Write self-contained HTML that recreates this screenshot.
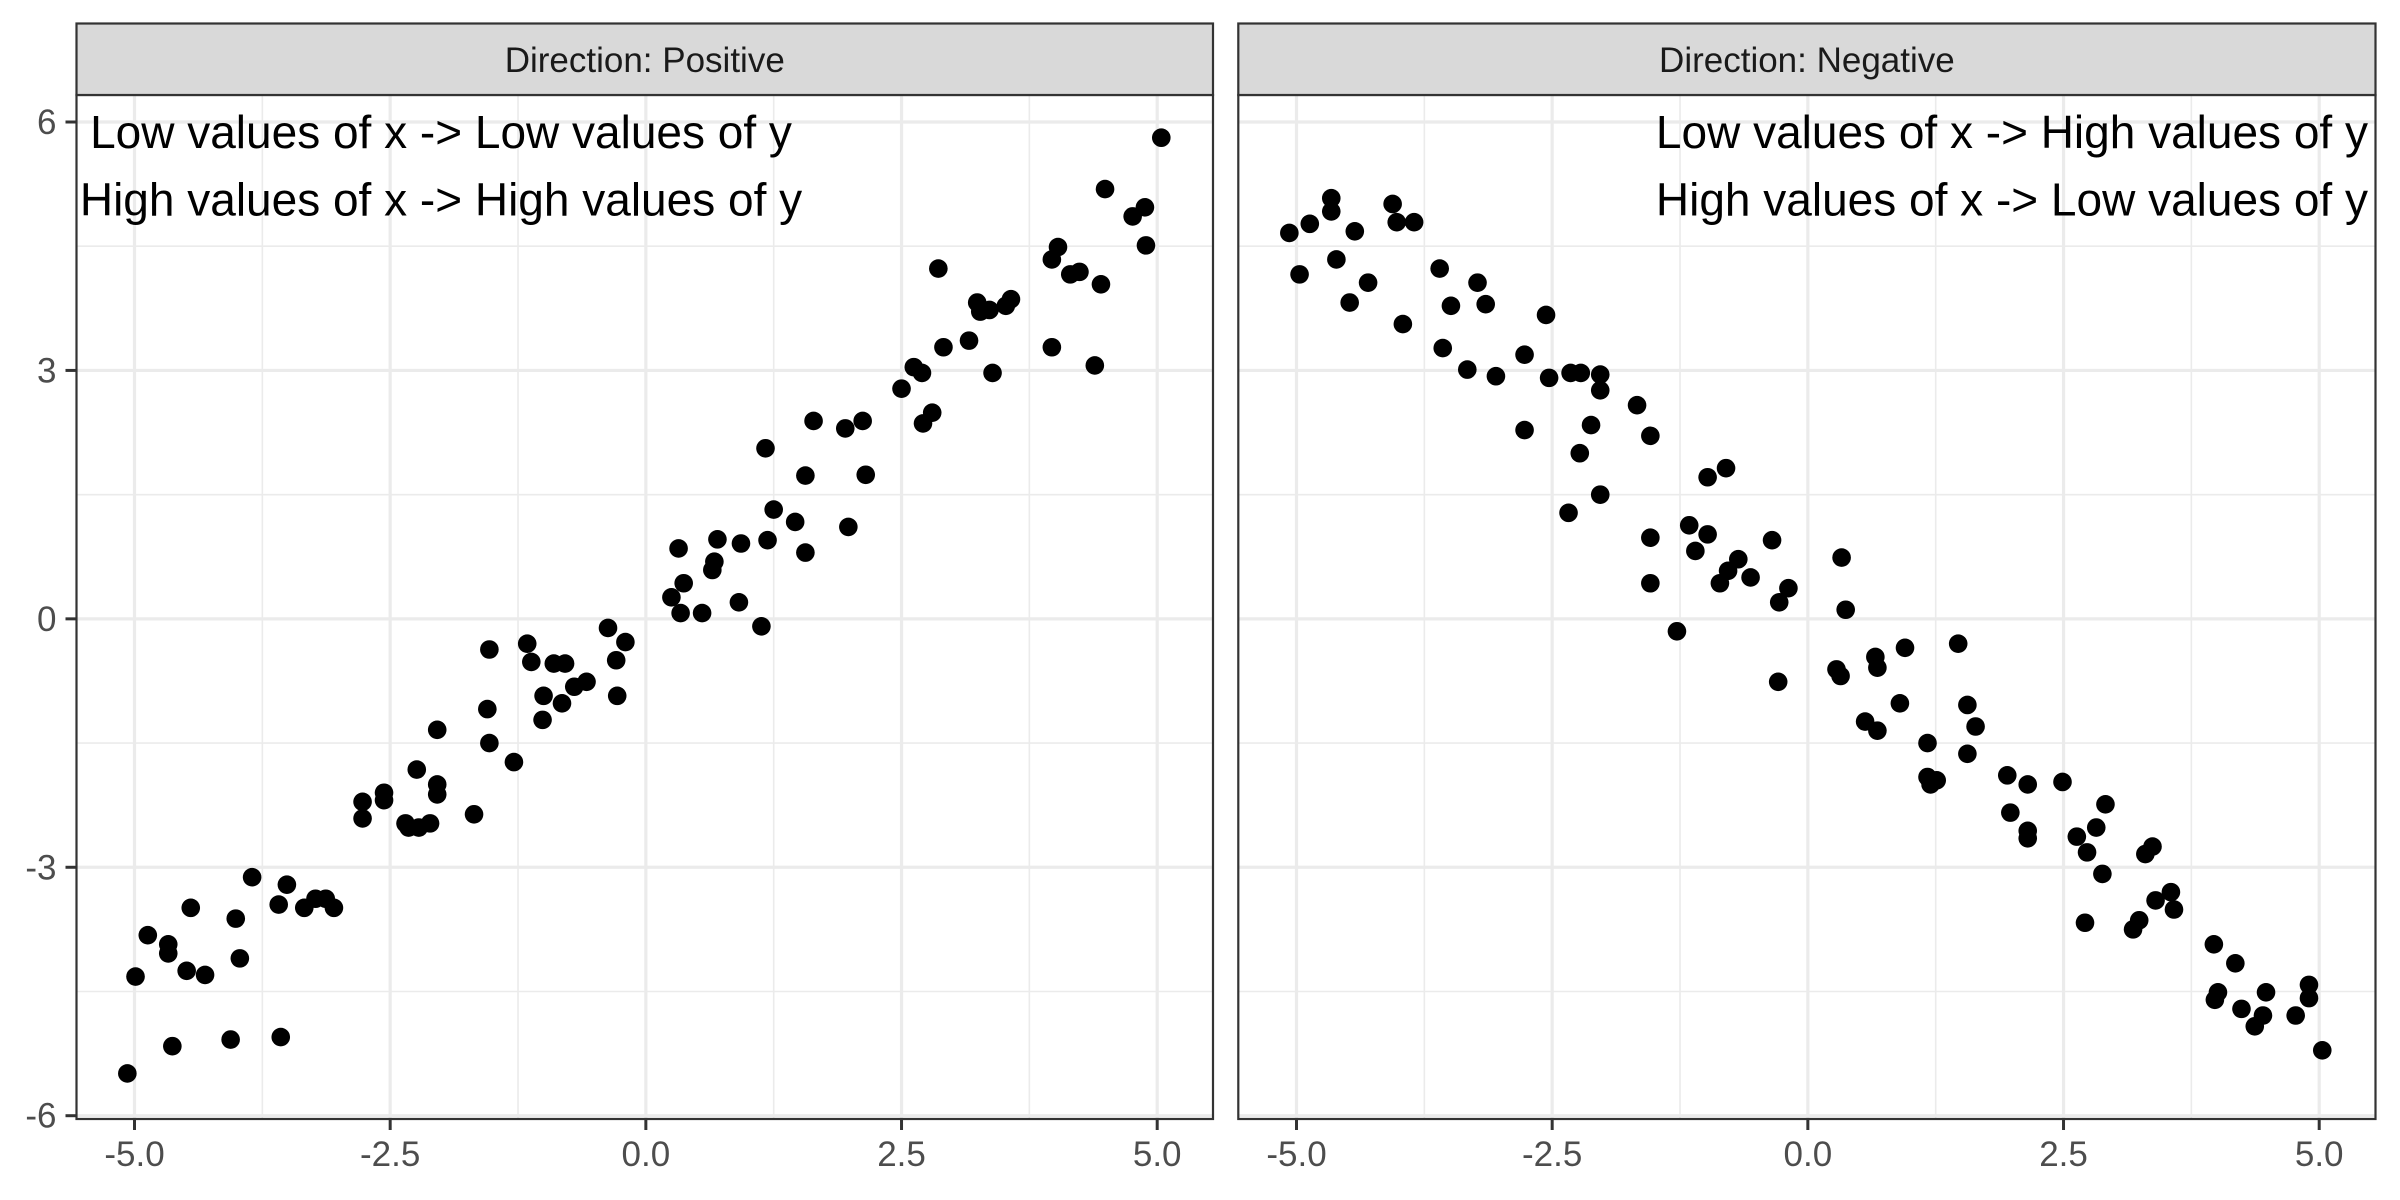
<!DOCTYPE html>
<html><head><meta charset="utf-8"><style>
body{margin:0;background:#fff}
svg{display:block;font-family:"Liberation Sans",Arial,sans-serif}
</style></head><body>
<svg id="chart" width="2400" height="1200" viewBox="0 0 2400 1200" xmlns="http://www.w3.org/2000/svg"></svg>
<script>
const posX=[-5.07,-4.99,-4.87,-4.67,-4.67,-4.63,-4.49,-4.45,-4.31,-4.06,-4.01,-3.97,-3.85,-3.59,-3.57,-3.51,-3.34,-3.23,-3.13,-3.05,-2.77,-2.77,-2.56,-2.56,-2.35,-2.32,-2.24,-2.22,-2.11,-2.04,-2.04,-2.04,-1.68,-1.55,-1.53,-1.53,-1.29,-1.16,-1.12,-1.01,-1.00,-0.90,-0.79,-0.82,-0.70,-0.58,-0.37,-0.29,-0.28,-0.20,0.25,0.32,0.37,0.34,0.55,0.65,0.67,0.70,0.91,0.93,1.13,1.17,1.19,1.25,1.46,1.56,1.56,1.64,1.95,1.98,2.12,2.15,2.50,2.62,2.70,2.71,2.80,2.86,2.91,3.16,3.24,3.27,3.36,3.39,3.52,3.57,3.97,3.97,4.03,4.15,4.24,4.39,4.45,4.49,4.76,4.88,4.89,5.04];
const posY=[-5.49,-4.32,-3.82,-3.93,-4.04,-5.16,-4.25,-3.49,-4.30,-5.08,-3.62,-4.10,-3.12,-3.45,-5.05,-3.21,-3.49,-3.38,-3.38,-3.49,-2.21,-2.41,-2.10,-2.19,-2.47,-2.52,-1.82,-2.52,-2.47,-2.00,-2.12,-1.34,-2.36,-1.09,-1.50,-0.37,-1.73,-0.30,-0.52,-1.22,-0.93,-0.54,-0.54,-1.02,-0.82,-0.76,-0.11,-0.50,-0.93,-0.28,0.26,0.85,0.43,0.07,0.07,0.59,0.69,0.96,0.20,0.91,-0.09,2.06,0.95,1.32,1.17,1.73,0.80,2.39,2.30,1.11,2.39,1.74,2.78,3.04,2.97,2.36,2.49,4.23,3.28,3.36,3.82,3.71,3.73,2.97,3.78,3.86,3.28,4.34,4.49,4.16,4.19,3.06,4.04,5.19,4.86,4.97,4.51,5.81];
const negX=[-5.07,-4.97,-4.87,-4.66,-4.66,-4.61,-4.48,-4.43,-4.30,-4.06,-4.02,-3.96,-3.85,-3.60,-3.57,-3.49,-3.33,-3.23,-3.15,-3.05,-2.77,-2.77,-2.56,-2.53,-2.34,-2.32,-2.23,-2.22,-2.12,-2.03,-2.03,-2.03,-1.67,-1.54,-1.54,-1.54,-1.28,-1.16,-1.10,-0.98,-0.98,-0.86,-0.80,-0.78,-0.68,-0.56,-0.35,-0.29,-0.28,-0.19,0.28,0.32,0.33,0.37,0.56,0.66,0.68,0.68,0.90,0.95,1.17,1.17,1.20,1.26,1.47,1.56,1.56,1.64,1.95,1.98,2.15,2.15,2.15,2.49,2.63,2.73,2.71,2.82,2.88,2.91,3.18,3.24,3.30,3.37,3.40,3.55,3.58,3.97,3.98,4.01,4.18,4.24,4.37,4.45,4.48,4.77,4.90,4.90,5.03];
const negY=[4.66,4.16,4.77,5.08,4.92,4.34,3.82,4.68,4.06,5.01,4.79,3.56,4.79,4.23,3.27,3.78,3.01,4.06,3.80,2.93,3.19,2.28,3.67,2.91,1.28,2.97,2.00,2.97,2.34,2.95,2.76,1.50,2.58,2.21,0.98,0.43,-0.15,1.13,0.82,1.71,1.02,0.43,1.82,0.58,0.72,0.50,0.95,-0.76,0.20,0.37,-0.61,-0.69,0.74,0.11,-1.24,-0.46,-0.59,-1.35,-1.02,-0.35,-1.50,-1.91,-2.00,-1.95,-0.30,-1.04,-1.63,-1.30,-1.89,-2.34,-2.00,-2.56,-2.65,-1.97,-2.63,-2.82,-3.67,-2.52,-3.08,-2.24,-3.75,-3.64,-2.84,-2.75,-3.40,-3.30,-3.51,-3.93,-4.60,-4.51,-4.16,-4.71,-4.92,-4.79,-4.51,-4.79,-4.42,-4.58,-5.21];
const xTicks=[-5,-2.5,0,2.5,5];
const xTickLabels=["-5.0","-2.5","0.0","2.5","5.0"];
const yTicks=[-6,-3,0,3,6];
const yTickLabels=["-6","-3","0","3","6"];
const panelTitles=["Direction: Positive","Direction: Negative"];

const NS="http://www.w3.org/2000/svg";
const svg=document.getElementById('chart');
function mk(tag,attrs,parent){const e=document.createElementNS(NS,tag);for(const k in attrs)e.setAttribute(k,attrs[k]);(parent||svg).appendChild(e);return e;}
const plotTop=95,plotBot=1119,stripTop=23.5;
const yScale=v=>122+(6-v)*(1115.7-122)/12;
const panels=[{x0:76.5,x1:1213,xs:v=>134.5+(v+5)*102.27,px:posX,py:posY,lines:["Low values of x -> Low values of y","High values of x -> High values of y"],anchor:"middle",tx:441},
{x0:1238.3,x1:2375.5,xs:v=>1296.5+(v+5)*102.27,px:negX,py:negY,lines:["Low values of x -> High values of y","High values of x -> Low values of y"],anchor:"end",tx:2368}];
panels.forEach((p,i)=>{
  const g=mk('g',{});
  
  
  for(let k=0;k<xTicks.length-1;k++){const v=(xTicks[k]+xTicks[k+1])/2;const l=mk('line',{x1:p.xs(v),x2:p.xs(v),y1:plotTop,y2:plotBot,stroke:'#ebebeb','stroke-width':1.6},g);
    
    }
  for(let k=0;k<yTicks.length-1;k++){const v=(yTicks[k]+yTicks[k+1])/2;const l=mk('line',{x1:p.x0,x2:p.x1,y1:yScale(v),y2:yScale(v),stroke:'#ebebeb','stroke-width':1.6},g);
    
    }
  xTicks.forEach((v,k)=>{const l=mk('line',{x1:p.xs(v),x2:p.xs(v),y1:plotTop,y2:plotBot,stroke:'#ebebeb','stroke-width':3.2},g);
    
    
    const t=mk('line',{x1:p.xs(v),x2:p.xs(v),y1:plotBot,y2:plotBot+11,stroke:'#333','stroke-width':3},g);
    
    
    const tx=mk('text',{x:p.xs(v),y:plotBot+47,'text-anchor':'middle','font-size':35,fill:'#4d4d4d'},g);tx.textContent=xTickLabels[k];
    
    });
  yTicks.forEach((v,k)=>{const l=mk('line',{x1:p.x0,x2:p.x1,y1:yScale(v),y2:yScale(v),stroke:'#ebebeb','stroke-width':3.2},g);
    
    
    if(i===0){const t=mk('line',{x1:p.x0-11,x2:p.x0,y1:yScale(v),y2:yScale(v),stroke:'#333','stroke-width':3},g);
      
      
      const tx=mk('text',{x:p.x0-20,y:yScale(v)+12,'text-anchor':'end','font-size':35,fill:'#4d4d4d'},g);tx.textContent=yTickLabels[k];
      
      }});
  p.px.forEach((xv,k)=>{const c=mk('circle',{cx:p.xs(xv),cy:yScale(p.py[k]),r:9.3,fill:'#000'},g);
    
    });
  p.lines.forEach((s,k)=>{const t=mk('text',{x:p.tx,y:148+k*67.5,'text-anchor':p.anchor,'font-size':46,fill:'#000'},g);t.textContent=s;
    
    });
  const b=mk('rect',{x:p.x0,y:plotTop,width:p.x1-p.x0,height:plotBot-plotTop,fill:'none',stroke:'#333','stroke-width':2.2},g);
  
  
  const s=mk('rect',{x:p.x0,y:stripTop,width:p.x1-p.x0,height:plotTop-stripTop,fill:'#d9d9d9',stroke:'#333','stroke-width':2.2},g);
  
  
  const st=mk('text',{x:(p.x0+p.x1)/2,y:72,'text-anchor':'middle','font-size':35,fill:'#1a1a1a'},g);st.textContent=panelTitles[i];
  
  
});
</script>
</body></html>
